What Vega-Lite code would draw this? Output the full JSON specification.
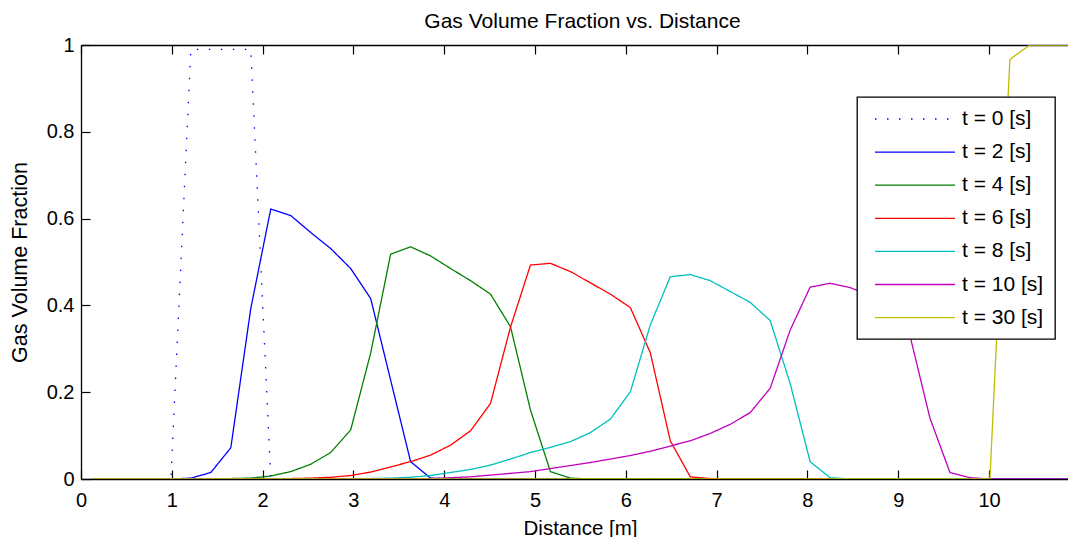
{
"$schema": "https://vega.github.io/schema/vega-lite/v6.json",
"width": 987, "height": 434,
"autosize": {"type": "none"},
"padding": {"left": 81, "top": 45, "right": 0, "bottom": 58},
"background": "white",
"title": {"text": "Gas Volume Fraction vs. Distance", "font": "Liberation Sans", "fontSize": 21, "fontWeight": "normal", "color": "#000", "offset": 3, "dx": 8},
"config": {
  "view": {"stroke": null},
  "axis": {"labelFont": "Liberation Sans", "labelFontSize": 20, "labelColor": "#000", "labelFlush": false, "titleFont": "Liberation Sans", "titleFontSize": 20.5, "titleFontWeight": "normal", "titleColor": "#000", "domainColor": "#000", "domainWidth": 1.3, "tickColor": "#000", "tickWidth": 1.2, "tickSize": -9, "grid": false}
},
"data": {"values": [
{"s":"t = 0 [s]","x":0.11,"y":0},{"s":"t = 0 [s]","x":0.33,"y":0},{"s":"t = 0 [s]","x":0.55,"y":0},{"s":"t = 0 [s]","x":0.77,"y":0},{"s":"t = 0 [s]","x":0.99,"y":0},{"s":"t = 0 [s]","x":1.21,"y":0.99},{"s":"t = 0 [s]","x":1.43,"y":0.99},{"s":"t = 0 [s]","x":1.65,"y":0.99},{"s":"t = 0 [s]","x":1.87,"y":0.99},{"s":"t = 0 [s]","x":2.09,"y":0},{"s":"t = 0 [s]","x":2.31,"y":0},{"s":"t = 0 [s]","x":2.53,"y":0},{"s":"t = 0 [s]","x":2.75,"y":0},{"s":"t = 0 [s]","x":2.97,"y":0},{"s":"t = 0 [s]","x":3.19,"y":0},{"s":"t = 0 [s]","x":3.41,"y":0},{"s":"t = 0 [s]","x":3.63,"y":0},{"s":"t = 0 [s]","x":3.85,"y":0},{"s":"t = 0 [s]","x":4.07,"y":0},{"s":"t = 0 [s]","x":4.29,"y":0},{"s":"t = 0 [s]","x":4.51,"y":0},{"s":"t = 0 [s]","x":4.73,"y":0},{"s":"t = 0 [s]","x":4.95,"y":0},{"s":"t = 0 [s]","x":5.17,"y":0},{"s":"t = 0 [s]","x":5.39,"y":0},{"s":"t = 0 [s]","x":5.61,"y":0},{"s":"t = 0 [s]","x":5.83,"y":0},{"s":"t = 0 [s]","x":6.05,"y":0},{"s":"t = 0 [s]","x":6.27,"y":0},{"s":"t = 0 [s]","x":6.49,"y":0},{"s":"t = 0 [s]","x":6.71,"y":0},{"s":"t = 0 [s]","x":6.93,"y":0},{"s":"t = 0 [s]","x":7.15,"y":0},{"s":"t = 0 [s]","x":7.37,"y":0},{"s":"t = 0 [s]","x":7.59,"y":0},{"s":"t = 0 [s]","x":7.81,"y":0},{"s":"t = 0 [s]","x":8.03,"y":0},{"s":"t = 0 [s]","x":8.25,"y":0},{"s":"t = 0 [s]","x":8.47,"y":0},{"s":"t = 0 [s]","x":8.69,"y":0},{"s":"t = 0 [s]","x":8.91,"y":0},{"s":"t = 0 [s]","x":9.13,"y":0},{"s":"t = 0 [s]","x":9.35,"y":0},{"s":"t = 0 [s]","x":9.57,"y":0},{"s":"t = 0 [s]","x":9.79,"y":0},{"s":"t = 0 [s]","x":10.01,"y":0},{"s":"t = 0 [s]","x":10.23,"y":0},{"s":"t = 0 [s]","x":10.45,"y":0},{"s":"t = 0 [s]","x":10.67,"y":0},{"s":"t = 0 [s]","x":10.89,"y":0},
{"s":"t = 2 [s]","x":0.11,"y":0},{"s":"t = 2 [s]","x":0.33,"y":0},{"s":"t = 2 [s]","x":0.55,"y":0},{"s":"t = 2 [s]","x":0.77,"y":0},{"s":"t = 2 [s]","x":0.99,"y":0},{"s":"t = 2 [s]","x":1.21,"y":0.002},{"s":"t = 2 [s]","x":1.43,"y":0.015},{"s":"t = 2 [s]","x":1.65,"y":0.072},{"s":"t = 2 [s]","x":1.87,"y":0.393},{"s":"t = 2 [s]","x":2.09,"y":0.622},{"s":"t = 2 [s]","x":2.31,"y":0.607},{"s":"t = 2 [s]","x":2.53,"y":0.568},{"s":"t = 2 [s]","x":2.75,"y":0.531},{"s":"t = 2 [s]","x":2.97,"y":0.485},{"s":"t = 2 [s]","x":3.19,"y":0.416},{"s":"t = 2 [s]","x":3.41,"y":0.228},{"s":"t = 2 [s]","x":3.63,"y":0.04},{"s":"t = 2 [s]","x":3.85,"y":0.002},{"s":"t = 2 [s]","x":4.07,"y":0},{"s":"t = 2 [s]","x":4.29,"y":0},{"s":"t = 2 [s]","x":4.51,"y":0},{"s":"t = 2 [s]","x":4.73,"y":0},{"s":"t = 2 [s]","x":4.95,"y":0},{"s":"t = 2 [s]","x":5.17,"y":0},{"s":"t = 2 [s]","x":5.39,"y":0},{"s":"t = 2 [s]","x":5.61,"y":0},{"s":"t = 2 [s]","x":5.83,"y":0},{"s":"t = 2 [s]","x":6.05,"y":0},{"s":"t = 2 [s]","x":6.27,"y":0},{"s":"t = 2 [s]","x":6.49,"y":0},{"s":"t = 2 [s]","x":6.71,"y":0},{"s":"t = 2 [s]","x":6.93,"y":0},{"s":"t = 2 [s]","x":7.15,"y":0},{"s":"t = 2 [s]","x":7.37,"y":0},{"s":"t = 2 [s]","x":7.59,"y":0},{"s":"t = 2 [s]","x":7.81,"y":0},{"s":"t = 2 [s]","x":8.03,"y":0},{"s":"t = 2 [s]","x":8.25,"y":0},{"s":"t = 2 [s]","x":8.47,"y":0},{"s":"t = 2 [s]","x":8.69,"y":0},{"s":"t = 2 [s]","x":8.91,"y":0},{"s":"t = 2 [s]","x":9.13,"y":0},{"s":"t = 2 [s]","x":9.35,"y":0},{"s":"t = 2 [s]","x":9.57,"y":0},{"s":"t = 2 [s]","x":9.79,"y":0},{"s":"t = 2 [s]","x":10.01,"y":0},{"s":"t = 2 [s]","x":10.23,"y":0},{"s":"t = 2 [s]","x":10.45,"y":0},{"s":"t = 2 [s]","x":10.67,"y":0},{"s":"t = 2 [s]","x":10.89,"y":0},
{"s":"t = 4 [s]","x":0.11,"y":0},{"s":"t = 4 [s]","x":0.33,"y":0},{"s":"t = 4 [s]","x":0.55,"y":0},{"s":"t = 4 [s]","x":0.77,"y":0},{"s":"t = 4 [s]","x":0.99,"y":0},{"s":"t = 4 [s]","x":1.21,"y":0},{"s":"t = 4 [s]","x":1.43,"y":0},{"s":"t = 4 [s]","x":1.65,"y":0.001},{"s":"t = 4 [s]","x":1.87,"y":0.002},{"s":"t = 4 [s]","x":2.09,"y":0.007},{"s":"t = 4 [s]","x":2.31,"y":0.017},{"s":"t = 4 [s]","x":2.53,"y":0.034},{"s":"t = 4 [s]","x":2.75,"y":0.061},{"s":"t = 4 [s]","x":2.97,"y":0.113},{"s":"t = 4 [s]","x":3.19,"y":0.29},{"s":"t = 4 [s]","x":3.41,"y":0.518},{"s":"t = 4 [s]","x":3.63,"y":0.535},{"s":"t = 4 [s]","x":3.85,"y":0.514},{"s":"t = 4 [s]","x":4.07,"y":0.485},{"s":"t = 4 [s]","x":4.29,"y":0.457},{"s":"t = 4 [s]","x":4.51,"y":0.426},{"s":"t = 4 [s]","x":4.73,"y":0.351},{"s":"t = 4 [s]","x":4.95,"y":0.159},{"s":"t = 4 [s]","x":5.17,"y":0.017},{"s":"t = 4 [s]","x":5.39,"y":0.002},{"s":"t = 4 [s]","x":5.61,"y":0},{"s":"t = 4 [s]","x":5.83,"y":0},{"s":"t = 4 [s]","x":6.05,"y":0},{"s":"t = 4 [s]","x":6.27,"y":0},{"s":"t = 4 [s]","x":6.49,"y":0},{"s":"t = 4 [s]","x":6.71,"y":0},{"s":"t = 4 [s]","x":6.93,"y":0},{"s":"t = 4 [s]","x":7.15,"y":0},{"s":"t = 4 [s]","x":7.37,"y":0},{"s":"t = 4 [s]","x":7.59,"y":0},{"s":"t = 4 [s]","x":7.81,"y":0},{"s":"t = 4 [s]","x":8.03,"y":0},{"s":"t = 4 [s]","x":8.25,"y":0},{"s":"t = 4 [s]","x":8.47,"y":0},{"s":"t = 4 [s]","x":8.69,"y":0},{"s":"t = 4 [s]","x":8.91,"y":0},{"s":"t = 4 [s]","x":9.13,"y":0},{"s":"t = 4 [s]","x":9.35,"y":0},{"s":"t = 4 [s]","x":9.57,"y":0},{"s":"t = 4 [s]","x":9.79,"y":0},{"s":"t = 4 [s]","x":10.01,"y":0},{"s":"t = 4 [s]","x":10.23,"y":0},{"s":"t = 4 [s]","x":10.45,"y":0},{"s":"t = 4 [s]","x":10.67,"y":0},{"s":"t = 4 [s]","x":10.89,"y":0},
{"s":"t = 6 [s]","x":0.11,"y":0},{"s":"t = 6 [s]","x":0.33,"y":0},{"s":"t = 6 [s]","x":0.55,"y":0},{"s":"t = 6 [s]","x":0.77,"y":0},{"s":"t = 6 [s]","x":0.99,"y":0},{"s":"t = 6 [s]","x":1.21,"y":0},{"s":"t = 6 [s]","x":1.43,"y":0},{"s":"t = 6 [s]","x":1.65,"y":0},{"s":"t = 6 [s]","x":1.87,"y":0},{"s":"t = 6 [s]","x":2.09,"y":0},{"s":"t = 6 [s]","x":2.31,"y":0.001},{"s":"t = 6 [s]","x":2.53,"y":0.002},{"s":"t = 6 [s]","x":2.75,"y":0.004},{"s":"t = 6 [s]","x":2.97,"y":0.008},{"s":"t = 6 [s]","x":3.19,"y":0.016},{"s":"t = 6 [s]","x":3.41,"y":0.028},{"s":"t = 6 [s]","x":3.63,"y":0.04},{"s":"t = 6 [s]","x":3.85,"y":0.055},{"s":"t = 6 [s]","x":4.07,"y":0.078},{"s":"t = 6 [s]","x":4.29,"y":0.111},{"s":"t = 6 [s]","x":4.51,"y":0.174},{"s":"t = 6 [s]","x":4.73,"y":0.35},{"s":"t = 6 [s]","x":4.95,"y":0.493},{"s":"t = 6 [s]","x":5.17,"y":0.497},{"s":"t = 6 [s]","x":5.39,"y":0.478},{"s":"t = 6 [s]","x":5.61,"y":0.452},{"s":"t = 6 [s]","x":5.83,"y":0.426},{"s":"t = 6 [s]","x":6.05,"y":0.395},{"s":"t = 6 [s]","x":6.27,"y":0.291},{"s":"t = 6 [s]","x":6.49,"y":0.088},{"s":"t = 6 [s]","x":6.71,"y":0.005},{"s":"t = 6 [s]","x":6.93,"y":0.001},{"s":"t = 6 [s]","x":7.15,"y":0},{"s":"t = 6 [s]","x":7.37,"y":0},{"s":"t = 6 [s]","x":7.59,"y":0},{"s":"t = 6 [s]","x":7.81,"y":0},{"s":"t = 6 [s]","x":8.03,"y":0},{"s":"t = 6 [s]","x":8.25,"y":0},{"s":"t = 6 [s]","x":8.47,"y":0},{"s":"t = 6 [s]","x":8.69,"y":0},{"s":"t = 6 [s]","x":8.91,"y":0},{"s":"t = 6 [s]","x":9.13,"y":0},{"s":"t = 6 [s]","x":9.35,"y":0},{"s":"t = 6 [s]","x":9.57,"y":0},{"s":"t = 6 [s]","x":9.79,"y":0},{"s":"t = 6 [s]","x":10.01,"y":0},{"s":"t = 6 [s]","x":10.23,"y":0},{"s":"t = 6 [s]","x":10.45,"y":0},{"s":"t = 6 [s]","x":10.67,"y":0},{"s":"t = 6 [s]","x":10.89,"y":0},
{"s":"t = 8 [s]","x":0.11,"y":0},{"s":"t = 8 [s]","x":0.33,"y":0},{"s":"t = 8 [s]","x":0.55,"y":0},{"s":"t = 8 [s]","x":0.77,"y":0},{"s":"t = 8 [s]","x":0.99,"y":0},{"s":"t = 8 [s]","x":1.21,"y":0},{"s":"t = 8 [s]","x":1.43,"y":0},{"s":"t = 8 [s]","x":1.65,"y":0},{"s":"t = 8 [s]","x":1.87,"y":0},{"s":"t = 8 [s]","x":2.09,"y":0},{"s":"t = 8 [s]","x":2.31,"y":0},{"s":"t = 8 [s]","x":2.53,"y":0},{"s":"t = 8 [s]","x":2.75,"y":0},{"s":"t = 8 [s]","x":2.97,"y":0},{"s":"t = 8 [s]","x":3.19,"y":0.001},{"s":"t = 8 [s]","x":3.41,"y":0.002},{"s":"t = 8 [s]","x":3.63,"y":0.004},{"s":"t = 8 [s]","x":3.85,"y":0.008},{"s":"t = 8 [s]","x":4.07,"y":0.015},{"s":"t = 8 [s]","x":4.29,"y":0.022},{"s":"t = 8 [s]","x":4.51,"y":0.032},{"s":"t = 8 [s]","x":4.73,"y":0.046},{"s":"t = 8 [s]","x":4.95,"y":0.061},{"s":"t = 8 [s]","x":5.17,"y":0.073},{"s":"t = 8 [s]","x":5.39,"y":0.086},{"s":"t = 8 [s]","x":5.61,"y":0.107},{"s":"t = 8 [s]","x":5.83,"y":0.138},{"s":"t = 8 [s]","x":6.05,"y":0.201},{"s":"t = 8 [s]","x":6.27,"y":0.355},{"s":"t = 8 [s]","x":6.49,"y":0.466},{"s":"t = 8 [s]","x":6.71,"y":0.471},{"s":"t = 8 [s]","x":6.93,"y":0.457},{"s":"t = 8 [s]","x":7.15,"y":0.432},{"s":"t = 8 [s]","x":7.37,"y":0.407},{"s":"t = 8 [s]","x":7.59,"y":0.365},{"s":"t = 8 [s]","x":7.81,"y":0.22},{"s":"t = 8 [s]","x":8.03,"y":0.04},{"s":"t = 8 [s]","x":8.25,"y":0.003},{"s":"t = 8 [s]","x":8.47,"y":0},{"s":"t = 8 [s]","x":8.69,"y":0},{"s":"t = 8 [s]","x":8.91,"y":0},{"s":"t = 8 [s]","x":9.13,"y":0},{"s":"t = 8 [s]","x":9.35,"y":0},{"s":"t = 8 [s]","x":9.57,"y":0},{"s":"t = 8 [s]","x":9.79,"y":0},{"s":"t = 8 [s]","x":10.01,"y":0},{"s":"t = 8 [s]","x":10.23,"y":0},{"s":"t = 8 [s]","x":10.45,"y":0},{"s":"t = 8 [s]","x":10.67,"y":0},{"s":"t = 8 [s]","x":10.89,"y":0},
{"s":"t = 10 [s]","x":0.11,"y":0},{"s":"t = 10 [s]","x":0.33,"y":0},{"s":"t = 10 [s]","x":0.55,"y":0},{"s":"t = 10 [s]","x":0.77,"y":0},{"s":"t = 10 [s]","x":0.99,"y":0},{"s":"t = 10 [s]","x":1.21,"y":0},{"s":"t = 10 [s]","x":1.43,"y":0},{"s":"t = 10 [s]","x":1.65,"y":0},{"s":"t = 10 [s]","x":1.87,"y":0},{"s":"t = 10 [s]","x":2.09,"y":0},{"s":"t = 10 [s]","x":2.31,"y":0},{"s":"t = 10 [s]","x":2.53,"y":0},{"s":"t = 10 [s]","x":2.75,"y":0},{"s":"t = 10 [s]","x":2.97,"y":0},{"s":"t = 10 [s]","x":3.19,"y":0},{"s":"t = 10 [s]","x":3.41,"y":0},{"s":"t = 10 [s]","x":3.63,"y":0},{"s":"t = 10 [s]","x":3.85,"y":0.001},{"s":"t = 10 [s]","x":4.07,"y":0.003},{"s":"t = 10 [s]","x":4.29,"y":0.005},{"s":"t = 10 [s]","x":4.51,"y":0.009},{"s":"t = 10 [s]","x":4.73,"y":0.013},{"s":"t = 10 [s]","x":4.95,"y":0.017},{"s":"t = 10 [s]","x":5.17,"y":0.024},{"s":"t = 10 [s]","x":5.39,"y":0.031},{"s":"t = 10 [s]","x":5.61,"y":0.038},{"s":"t = 10 [s]","x":5.83,"y":0.046},{"s":"t = 10 [s]","x":6.05,"y":0.054},{"s":"t = 10 [s]","x":6.27,"y":0.064},{"s":"t = 10 [s]","x":6.49,"y":0.076},{"s":"t = 10 [s]","x":6.71,"y":0.088},{"s":"t = 10 [s]","x":6.93,"y":0.105},{"s":"t = 10 [s]","x":7.15,"y":0.126},{"s":"t = 10 [s]","x":7.37,"y":0.153},{"s":"t = 10 [s]","x":7.59,"y":0.209},{"s":"t = 10 [s]","x":7.81,"y":0.343},{"s":"t = 10 [s]","x":8.03,"y":0.442},{"s":"t = 10 [s]","x":8.25,"y":0.451},{"s":"t = 10 [s]","x":8.47,"y":0.441},{"s":"t = 10 [s]","x":8.69,"y":0.423},{"s":"t = 10 [s]","x":8.91,"y":0.398},{"s":"t = 10 [s]","x":9.13,"y":0.33},{"s":"t = 10 [s]","x":9.35,"y":0.14},{"s":"t = 10 [s]","x":9.57,"y":0.015},{"s":"t = 10 [s]","x":9.79,"y":0.003},{"s":"t = 10 [s]","x":10.01,"y":0},{"s":"t = 10 [s]","x":10.23,"y":0},{"s":"t = 10 [s]","x":10.45,"y":0},{"s":"t = 10 [s]","x":10.67,"y":0},{"s":"t = 10 [s]","x":10.89,"y":0},
{"s":"t = 30 [s]","x":0.11,"y":0},{"s":"t = 30 [s]","x":0.33,"y":0},{"s":"t = 30 [s]","x":0.55,"y":0},{"s":"t = 30 [s]","x":0.77,"y":0},{"s":"t = 30 [s]","x":0.99,"y":0},{"s":"t = 30 [s]","x":1.21,"y":0},{"s":"t = 30 [s]","x":1.43,"y":0},{"s":"t = 30 [s]","x":1.65,"y":0},{"s":"t = 30 [s]","x":1.87,"y":0},{"s":"t = 30 [s]","x":2.09,"y":0},{"s":"t = 30 [s]","x":2.31,"y":0},{"s":"t = 30 [s]","x":2.53,"y":0},{"s":"t = 30 [s]","x":2.75,"y":0},{"s":"t = 30 [s]","x":2.97,"y":0},{"s":"t = 30 [s]","x":3.19,"y":0},{"s":"t = 30 [s]","x":3.41,"y":0},{"s":"t = 30 [s]","x":3.63,"y":0},{"s":"t = 30 [s]","x":3.85,"y":0},{"s":"t = 30 [s]","x":4.07,"y":0},{"s":"t = 30 [s]","x":4.29,"y":0},{"s":"t = 30 [s]","x":4.51,"y":0},{"s":"t = 30 [s]","x":4.73,"y":0},{"s":"t = 30 [s]","x":4.95,"y":0},{"s":"t = 30 [s]","x":5.17,"y":0},{"s":"t = 30 [s]","x":5.39,"y":0},{"s":"t = 30 [s]","x":5.61,"y":0},{"s":"t = 30 [s]","x":5.83,"y":0},{"s":"t = 30 [s]","x":6.05,"y":0},{"s":"t = 30 [s]","x":6.27,"y":0},{"s":"t = 30 [s]","x":6.49,"y":0},{"s":"t = 30 [s]","x":6.71,"y":0},{"s":"t = 30 [s]","x":6.93,"y":0},{"s":"t = 30 [s]","x":7.15,"y":0},{"s":"t = 30 [s]","x":7.37,"y":0},{"s":"t = 30 [s]","x":7.59,"y":0},{"s":"t = 30 [s]","x":7.81,"y":0},{"s":"t = 30 [s]","x":8.03,"y":0},{"s":"t = 30 [s]","x":8.25,"y":0},{"s":"t = 30 [s]","x":8.47,"y":0},{"s":"t = 30 [s]","x":8.69,"y":0},{"s":"t = 30 [s]","x":8.91,"y":0},{"s":"t = 30 [s]","x":9.13,"y":0},{"s":"t = 30 [s]","x":9.35,"y":0},{"s":"t = 30 [s]","x":9.57,"y":0},{"s":"t = 30 [s]","x":9.79,"y":0},{"s":"t = 30 [s]","x":10.01,"y":0},{"s":"t = 30 [s]","x":10.23,"y":0.967},{"s":"t = 30 [s]","x":10.45,"y":1},{"s":"t = 30 [s]","x":10.67,"y":1},{"s":"t = 30 [s]","x":10.89,"y":1}
]},
"layer": [
  {
    "mark": {"type": "line", "strokeWidth": 1.3, "clip": true, "strokeCap": "butt"},
    "encoding": {
      "x": {"field": "x", "type": "quantitative", "scale": {"domain": [0, 10.87], "nice": false, "zero": false},
            "axis": {"orient": "bottom", "values": [0,1,2,3,4,5,6,7,8,9,10], "format": "d", "labelPadding": 20, "title": "Distance [m]", "titleX": 499, "titleY": 55, "titleBaseline": "alphabetic"}},
      "y": {"field": "y", "type": "quantitative", "scale": {"domain": [0, 1], "nice": false},
            "axis": {"orient": "left", "values": [0,0.2,0.4,0.6,0.8,1], "format": ".1~f", "labelPadding": 16, "title": "Gas Volume Fraction", "titleFontSize": 21.5, "titleX": -61, "titleBaseline": "middle"}},
      "color": {"field": "s", "type": "nominal", "sort": null,
        "scale": {"domain": ["t = 0 [s]","t = 2 [s]","t = 4 [s]","t = 6 [s]","t = 8 [s]","t = 10 [s]","t = 30 [s]"],
                  "range": ["#0000ff","#0000ff","#008000","#ff0000","#00bfbf","#bf00bf","#bfbf00"]},
        "legend": {"title": null, "orient": "none", "legendX": 776, "legendY": 52, "fillColor": "white", "strokeColor": "#000", "padding": 11, "rowPadding": 12.1, "symbolType": "M-4,0H4", "symbolSize": 400, "symbolStrokeWidth": 1.3, "symbolOffset": 36, "labelOffset": 36, "labelFont": "Liberation Sans", "labelFontSize": 21, "labelColor": "#000", "labelLimit": 300, "labelExpr": "datum.label + '\u2009'",
                   "encode": {"legend": {"update": {"strokeWidth": {"value": 1.3}}}}}},
      "strokeDash": {"field": "s", "type": "nominal", "sort": null,
        "scale": {"domain": ["t = 0 [s]","t = 2 [s]","t = 4 [s]","t = 6 [s]","t = 8 [s]","t = 10 [s]","t = 30 [s]"],
                  "range": [[1.5,10.5],[1,0],[1,0],[1,0],[1,0],[1,0],[1,0]]},
        "legend": {"title": null, "orient": "none", "legendX": 776, "legendY": 52, "fillColor": "white", "strokeColor": "#000", "padding": 11, "rowPadding": 12.1, "symbolType": "M-4,0H4", "symbolSize": 400, "symbolStrokeWidth": 1.3, "symbolOffset": 36, "labelOffset": 36, "labelFont": "Liberation Sans", "labelFontSize": 21, "labelColor": "#000", "labelLimit": 300, "labelExpr": "datum.label + '\u2009'",
                   "encode": {"legend": {"update": {"strokeWidth": {"value": 1.3}}}}}}
    }
  },
  {
    "mark": {"type": "line", "opacity": 0},
    "encoding": {
      "x": {"field": "x", "type": "quantitative", "axis": {"orient": "top", "values": [0,1,2,3,4,5,6,7,8,9,10], "labels": false, "title": null}},
      "y": {"field": "y", "type": "quantitative"}
    }
  }
],
"resolve": {"axis": {"x": "independent"}}
}
